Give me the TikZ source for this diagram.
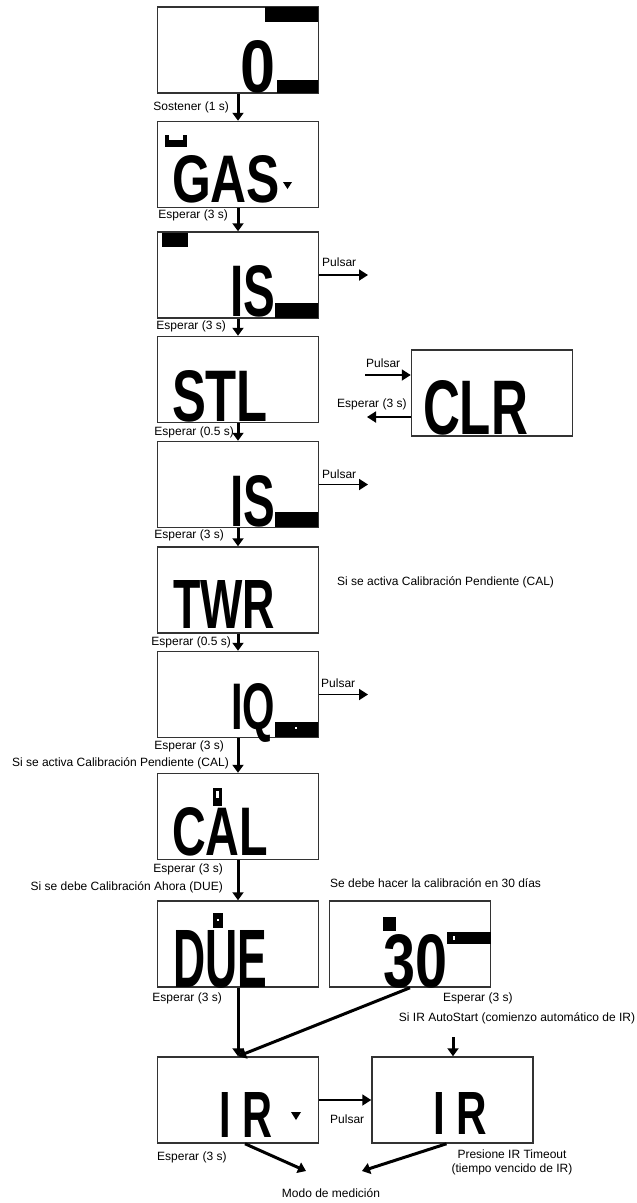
\documentclass[tikz,border=0pt]{standalone}
\usepackage{fontspec}
\setmainfont{Liberation Sans}
\usepackage{graphicx}
\usetikzlibrary{arrows.meta}

\newcommand{\lcdtext}[3]{\resizebox{#1pt}{#2pt}{\bfseries #3}}

\begin{document}
\begin{tikzpicture}[x=1pt,y=-1pt,
	lcd/.style={draw=black!80, line width=1.5pt, minimum width=161pt, minimum height=86pt, inner sep=0pt},
	glyph/.style={anchor=base west, inner sep=0pt, outer sep=0pt},
	lbl/.style={font=\fontsize{12}{14}\selectfont, inner sep=0pt},
	flow/.style={line width=3pt, -{Triangle[width=11pt,length=8pt]}},
	push/.style={line width=1.8pt, -{Triangle[width=11pt,length=9pt]}}]

		\useasboundingbox (0,0) rectangle (637,1203);

		% displays %
		\node[lcd] (lcdZero) at (238,50) {};
		\node[lcd] (lcdGas) at (238,164.5) {};
		\node[lcd] (lcdIs) at (238,275) {};
		\node[lcd] (lcdStl) at (238,379.5) {};
		\node[lcd] (lcdClr) at (492,393) {};
		\node[lcd] (lcdIsb) at (238,484.5) {};
		\node[lcd] (lcdTwr) at (238,590) {};
		\node[lcd] (lcdIq) at (238,694.5) {};
		\node[lcd] (lcdCal) at (238,816.5) {};
		\node[lcd] (lcdDue) at (238,944) {};
		\node[lcd] (lcdThirty) at (410,944) {};
		\node[lcd] (lcdIr) at (238,1100) {};
		\node[lcd] (lcdIrb) at (452.5,1100) {};

		% display glyphs %
		\node[glyph] (txtZero) at (240,92) {\lcdtext{35}{52}{0}};
		\node[glyph] (txtGas) at (172,202) {\lcdtext{108}{47}{GAS}};
		\node[glyph] (txtIs) at (230,316) {\lcdtext{45}{51}{IS}};
		\node[glyph] (txtStl) at (172,421) {\lcdtext{96}{51}{STL}};
		\node[glyph] (txtClr) at (423,434) {\lcdtext{105}{54}{CLR}};
		\node[glyph] (txtIsb) at (230,526) {\lcdtext{45}{51}{IS}};
		\node[glyph] (txtTwr) at (173,628) {\lcdtext{102}{48}{TWR}};
		\node[glyph] (txtIq) at (231,729) {\lcdtext{44}{46}{IQ}};
		\node[glyph] (txtCal) at (172,855) {\lcdtext{96}{48}{CAL}};
		\node[glyph] (txtDue) at (173,987) {\lcdtext{94}{57}{DUE}};
		\node[glyph] (txtThirty) at (383,987) {\lcdtext{64}{53}{30}};
		\node[glyph] (txtIr) at (219,1137) {\lcdtext{53}{45}{I R}};
		\node[glyph] (txtIrb) at (433,1134) {\lcdtext{54}{42}{I R}};

		% display marks %
		\fill (265,7) rectangle (318,22);
		\fill (277,80) rectangle (318,93);
		\fill (165,140) rectangle (187,147);
		\fill (165,135) rectangle (169,140);
		\fill (183,135) rectangle (187,140);
		\fill (283,182) -- (292,182) -- (287.5,189) -- cycle;
		\fill (162,233) rectangle (188,247);
		\fill (275,303) rectangle (318,318);
		\fill (275,512) rectangle (318,527);
		\fill (275,722) rectangle (318,737);
		\fill[white] (295,727) rectangle (297,729);
		\fill (213,788) rectangle (222,806);
		\fill[white] (216,791) rectangle (219,798);
		\fill (213,913) rectangle (223,928);
		\fill[white] (217,919) rectangle (219,921);
		\fill (383,917) rectangle (396,931);
		\fill (447,932) rectangle (491,944);
		\fill[white] (453,936) rectangle (455,940);
		\fill (291,1112) -- (301,1112) -- (296,1120) -- cycle;

		% labels %
		\node[lbl, anchor=east] (lblHold) at (229,107) {Sostener (1 s)};
		\node[lbl, anchor=east] (lblWaitA) at (228,215) {Esperar (3 s)};
		\node[lbl, anchor=east] (lblWaitB) at (226,326) {Esperar (3 s)};
		\node[lbl, anchor=east] (lblWaitC) at (234,432) {Esperar (0.5 s)};
		\node[lbl, anchor=east] (lblWaitD) at (224,535) {Esperar (3 s)};
		\node[lbl, anchor=east] (lblWaitE) at (231,642) {Esperar (0.5 s)};
		\node[lbl, anchor=east] (lblWaitF) at (224,746) {Esperar (3 s)};
		\node[lbl, anchor=east] (lblCalIf) at (229,763) {Si se activa Calibración Pendiente (CAL)};
		\node[lbl, anchor=east] (lblWaitG) at (223,869) {Esperar (3 s)};
		\node[lbl, anchor=east] (lblDueIf) at (223,887) {Si se debe Calibración Ahora (DUE)};
		\node[lbl, anchor=west] (lblDays) at (330,883) {Se debe hacer la calibración en 30 días};
		\node[lbl, anchor=east] (lblWaitH) at (222,998) {Esperar (3 s)};
		\node[lbl, anchor=west] (lblWaitI) at (443,998) {Esperar (3 s)};
		\node[lbl] (lblAuto) at (517,1018) {Si IR AutoStart (comienzo automático de IR)};
		\node[lbl, anchor=west] (lblWaitJ) at (157,1157) {Esperar (3 s)};
		\node[lbl, align=center] (lblTimeout) at (512,1162) {Presione IR Timeout\\(tiempo vencido de IR)};
		\node[lbl] (lblMode) at (331,1193) {Modo de medición};
		\node[lbl, anchor=west] (lblTwrIf) at (337,582) {Si se activa Calibración Pendiente (CAL)};
		\node[lbl, anchor=west] (lblPushA) at (322,262) {Pulsar};
		\node[lbl, anchor=west] (lblPushB) at (322,474) {Pulsar};
		\node[lbl, anchor=west] (lblPushC) at (321,683) {Pulsar};
		\node[lbl, anchor=west] (lblPushClr) at (366,363) {Pulsar};
		\node[lbl, anchor=west] (lblWaitClr) at (337,404) {Esperar (3 s)};
		\node[lbl, anchor=west] (lblPushIr) at (330,1119) {Pulsar};

		% main sequence %
		\draw[flow] (lcdZero) -- (lcdGas);
		\draw[flow] (lcdGas) -- (lcdIs);
		\draw[flow] (lcdIs) -- (lcdStl);
		\draw[flow] (lcdStl) -- (lcdIsb);
		\draw[flow] (lcdIsb) -- (lcdTwr);
		\draw[flow] (lcdTwr) -- (lcdIq);
		\draw[flow] (lcdIq) -- (lcdCal);
		\draw[flow] (lcdCal) -- (lcdDue);
		\draw[flow] (lcdDue) -- (lcdIr);
		\draw[flow] (lcdThirty.south) -- (lcdIr.north);

		% push branches %
		\coordinate (pushA) at (368,275);
		\coordinate (pushB) at (368,484.5);
		\coordinate (pushC) at (368,694.5);
		\draw[push] (lcdIs.east) -- (pushA);
		\draw[push] (lcdIsb.east) -- (pushB);
		\draw[push] (lcdIq.east) -- (pushC);

		% clear display %
		\coordinate (clrIn) at (365,375);
		\coordinate (clrOut) at (367,417);
		\draw[push] (clrIn) -- (clrIn -| lcdClr.west);
		\draw[push] (clrOut -| lcdClr.west) -- (clrOut);

		% IR and measurement mode %
		\draw[push] (lcdIr) -- (lcdIrb);
		\coordinate (autoIn) at (453,1037);
		\draw[flow] (autoIn) -- (autoIn |- lcdIrb.north);
		\coordinate (modeL) at (306,1171);
		\coordinate (modeR) at (362,1171);
		\draw[flow] ([xshift=7pt]lcdIr.south) -- (modeL);
		\draw[flow] ([xshift=-6pt]lcdIrb.south) -- (modeR);

	\end{tikzpicture}
\end{document}
